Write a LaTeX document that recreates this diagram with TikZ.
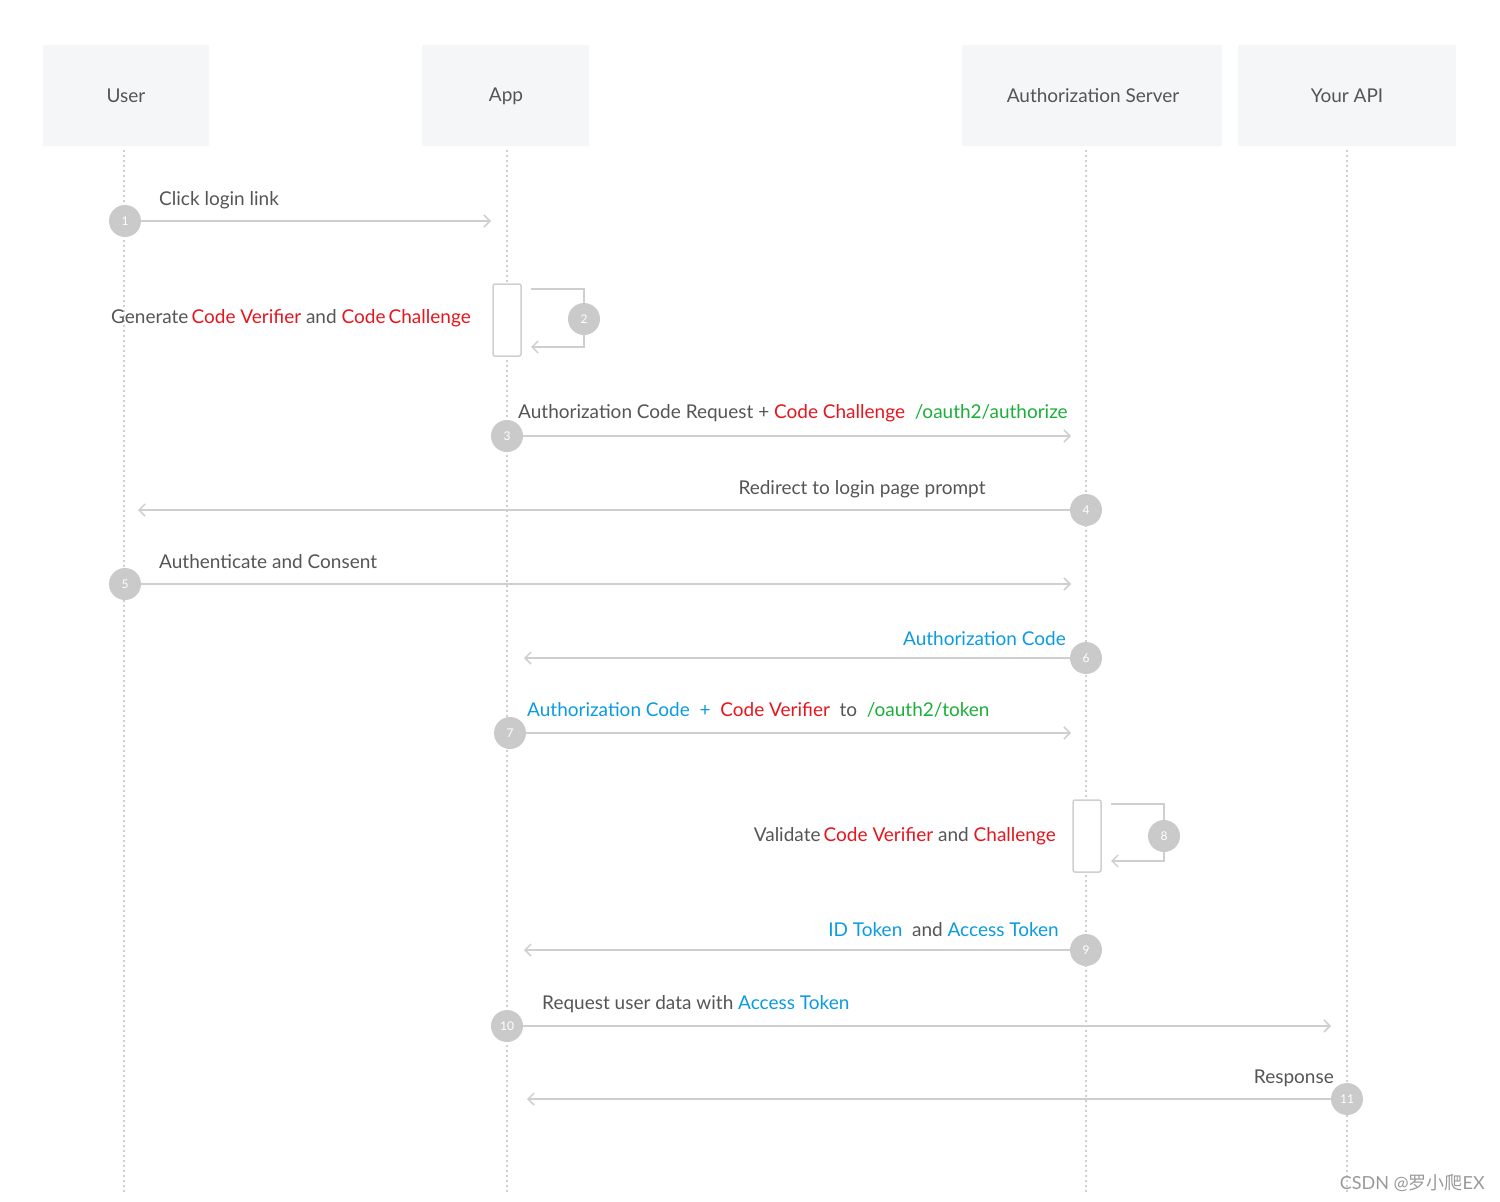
\documentclass[tikz,border=0pt]{standalone}
\usepackage{fontspec}
\setmainfont{Lato}
\newfontfamily\cjk{Noto Sans CJK SC}
\usetikzlibrary{arrows.meta}
\definecolor{hd}{HTML}{F5F6F8}
\definecolor{ln}{HTML}{CFCFCF}
\definecolor{cc}{HTML}{CACACA}
\definecolor{tx}{HTML}{555555}
\definecolor{rd}{HTML}{E5161E}
\definecolor{bl}{HTML}{0B9BE0}
\definecolor{gr}{HTML}{1BAF3A}
\newcommand{\R}[1]{\textcolor{rd}{#1}}
\newcommand{\B}[1]{\textcolor{bl}{#1}}
\newcommand{\G}[1]{\textcolor{gr}{#1}}
\begin{document}
\begin{tikzpicture}[x=1pt,y=-1pt,
 hdr/.style={fill=hd,draw=none,rounded corners=1pt},
 life/.style={draw=ln,line width=1.5pt,dash pattern=on 2pt off 3pt},
 msg/.style={draw=ln,line width=1.8pt,-{Straight Barb[length=6pt,width=12pt,line width=1.5pt]}},
 num/.style={circle,fill=cc,minimum size=32pt,inner sep=0pt,text=white,font=\fontsize{12}{14}\selectfont},
 lab/.style={text=tx,font=\fontsize{19}{22}\selectfont,inner sep=0pt},
 act/.style={draw=ln,line width=1.5pt,fill=white,rounded corners=2pt}]
\useasboundingbox (0,0) rectangle (1500,1202);
% headers
\fill[hdr] (43,45) rectangle (209,146); \node[lab] (hU) at (126,96) {User};
\fill[hdr] (422,45) rectangle (589,146); \node[lab] (hA) at (506,96) {App};
\fill[hdr] (962,45) rectangle (1222,146); \node[lab] (hS) at (1093,96) {Authorization Server};
\fill[hdr] (1238,45) rectangle (1456,146); \node[lab] (hP) at (1347,96) {Your API};
\coordinate (uT) at (124,150); \coordinate (uB) at (124,1192);
\coordinate (aT) at (507,150); \coordinate (aB) at (507,1192);
\coordinate (sT) at (1086,150); \coordinate (sB) at (1086,1192);
\coordinate (pT) at (1347,150); \coordinate (pB) at (1347,1192);
\draw[life] (uT)--(uB); \draw[life] (aT)--(aB); \draw[life] (sT)--(sB); \draw[life] (pT)--(pB);
% 1
\coordinate (e1) at (491,221);
\draw[msg] (125,221)--(e1); \node[num] (n1) at (125,221) {1};
\node[lab,anchor=west] at (159,200) {Click login link};
% 2
\draw[act] (493,284) rectangle (521,356);
\coordinate (l2a) at (531,289); \coordinate (l2b) at (531,347);
\draw[msg] (l2a)--(584,289)--(584,347)--(l2b);
\node[num] (n2) at (584,319) {2};
\node[lab,anchor=east] at (471,318) {Generate\,\R{Code Verifier} and \R{Code\,Challenge}};
% 3
\coordinate (e3) at (1071,436);
\draw[msg] (507,436)--(e3); \node[num] (n3) at (507,436) {3};
\node[lab,anchor=west] at (518,413) {Authorization Code Request + \R{Code Challenge}\ \ \G{/oauth2/authorize}};
% 4
\coordinate (e4) at (138,510);
\draw[msg] (1086,510)--(e4); \node[num] (n4) at (1086,510) {4};
\node[lab] at (862,489) {Redirect to login page prompt};
% 5
\coordinate (e5) at (1071,584);
\draw[msg] (125,584)--(e5); \node[num] (n5) at (125,584) {5};
\node[lab,anchor=west] at (159,562) {Authenticate and Consent};
% 6
\coordinate (e6) at (524,658);
\draw[msg] (1086,658)--(e6); \node[num] (n6) at (1086,658) {6};
\node[lab,anchor=east] at (1066,639) {\B{Authorization Code}};
% 7
\coordinate (e7) at (1071,733);
\draw[msg] (510,733)--(e7); \node[num] (n7) at (510,733) {7};
\node[lab,anchor=west] at (527,710) {\B{Authorization Code} \ \B{+} \ \R{Code Verifier}\ \ to \ \G{/oauth2/token}};
% 8
\draw[act] (1073,800) rectangle (1101,872);
\coordinate (l8a) at (1111,804); \coordinate (l8b) at (1111,861);
\draw[msg] (l8a)--(1164,804)--(1164,861)--(l8b);
\node[num] (n8) at (1164,836) {8};
\node[lab,anchor=east] at (1056,836) {Validate\,\R{Code Verifier} and \R{Challenge}};
% 9
\coordinate (e9) at (524,950);
\draw[msg] (1086,950)--(e9); \node[num] (n9) at (1086,950) {9};
\node[lab,anchor=east] at (1059,930) {\B{ID Token}\ \ and \B{Access Token}};
% 10
\coordinate (e10) at (1331,1026);
\draw[msg] (507,1026)--(e10); \node[num] (n10) at (507,1026) {10};
\node[lab,anchor=west] at (542,1004) {Request user data with \B{Access Token}};
% 11
\coordinate (e11) at (527,1099);
\draw[msg] (1347,1099)--(e11); \node[num] (n11) at (1347,1099) {11};
\node[lab,anchor=east] at (1334,1078) {Response};
\node[text=gray!80,anchor=east,inner sep=0pt,font=\fontsize{18}{20}\selectfont] (wm) at (1485,1183) {CSDN @{\cjk 罗小爬}EX};
\end{tikzpicture}
\end{document}
